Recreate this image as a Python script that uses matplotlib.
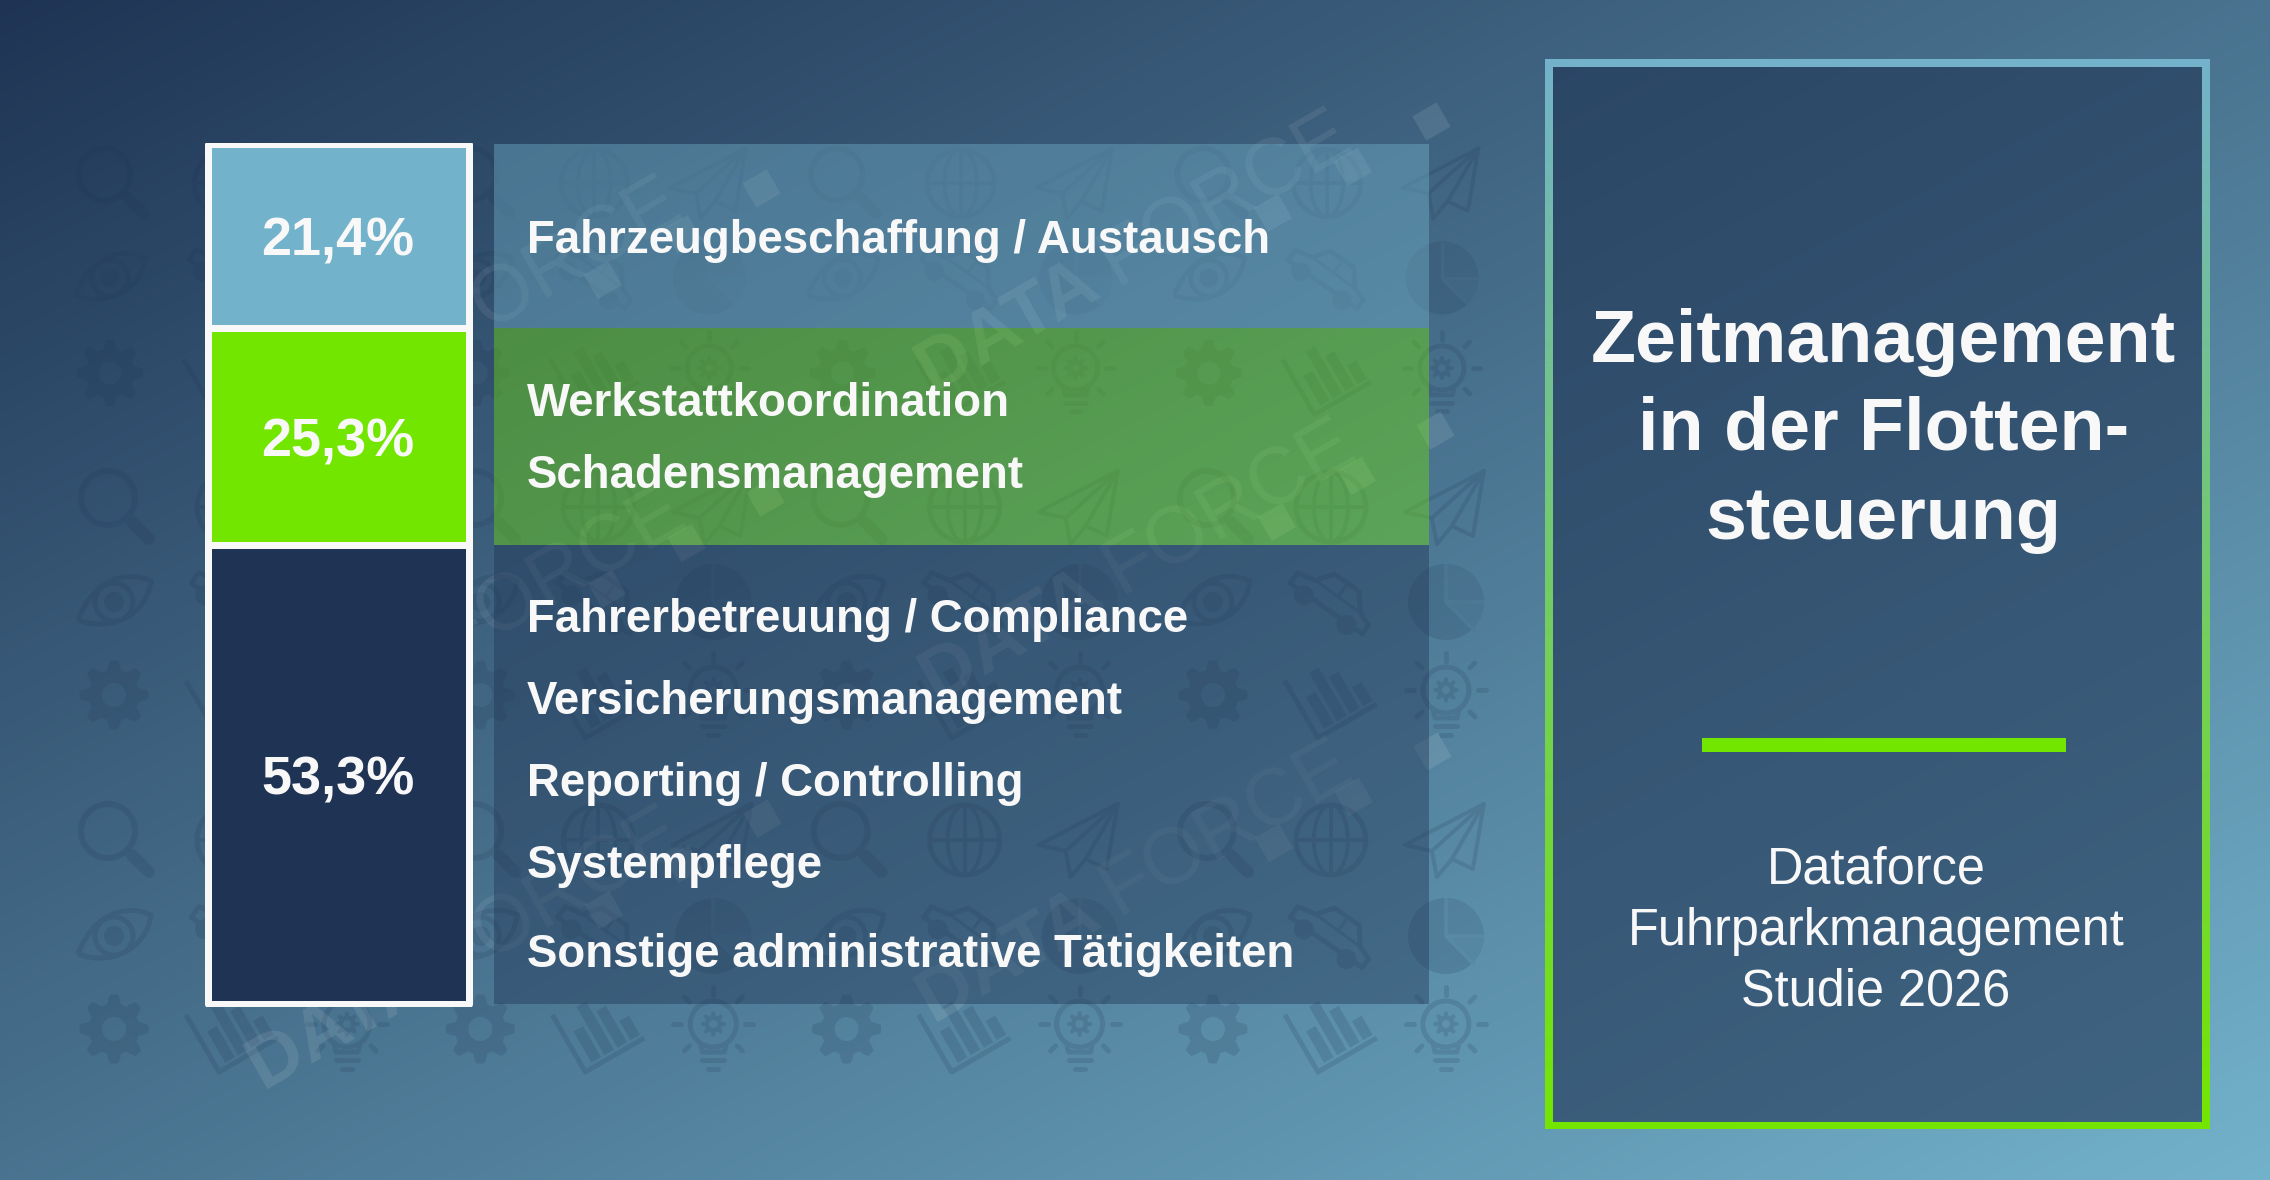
import numpy as np
import matplotlib
matplotlib.use('Agg')
import matplotlib.pyplot as plt
from matplotlib.figure import Figure
from matplotlib.backends.backend_agg import FigureCanvasAgg
from matplotlib.patches import Circle, Polygon, Wedge, Rectangle, PathPatch
from matplotlib.path import Path

plt.rcParams['font.family'] = ['Liberation Sans', 'DejaVu Sans']

W, H = 2270, 1180

# data
share_labels = ['53,3%', '25,3%', '21,4%']
shares = [53.3, 25.3, 21.4]
bar_colors = ['#1f3454', '#73e600', '#73b2cb']
panel_alpha = [0.42, 0.40, 0.42]
items_low = ['Fahrerbetreuung / Compliance', 'Versicherungsmanagement', 'Reporting / Controlling',
             'Systempflege', 'Sonstige administrative Tätigkeiten']
items_mid = ['Werkstattkoordination', 'Schadensmanagement']
items_top = ['Fahrzeugbeschaffung / Austausch']
title_lines = ['Zeitmanagement', 'in der Flotten-', 'steuerung']
source_lines = ['Dataforce', 'Fuhrparkmanagement', 'Studie 2026']

NAVY = '#1f3454'
BLUE = '#73b2cb'
GREEN = '#73e600'
WHITE = '#f8f8f8'


def lw(px):
    return px * 0.72


def mix(c1, c2, t):
    c1 = np.array(matplotlib.colors.to_rgb(c1))
    c2 = np.array(matplotlib.colors.to_rgb(c2))
    return c1[None, None, :] * (1 - t[..., None]) + c2[None, None, :] * t[..., None]


# background icons are drawn black on white in a second figure and used as a mask
fig_m = Figure(figsize=(W / 100, H / 100), dpi=100)
canvas_m = FigureCanvasAgg(fig_m)
am = fig_m.add_axes([0, 0, 1, 1])
am.set_xlim(0, W)
am.set_ylim(H, 0)
am.axis('off')


def line(pts, cx, cy, s, width, cap='round', color='k'):
    pts = np.array(pts, float)
    am.plot(cx + pts[:, 0] * s, cy + pts[:, 1] * s, color=color, lw=lw(width * s),
            solid_capstyle=cap, solid_joinstyle='round')


def ring(x, y, r, width, s, face='w'):
    am.add_patch(Circle((x, y), r * s, fc=face, ec='k', lw=lw(width * s)))


def gear(cx, cy, s, r0=30, amp=4.5, hole=12):
    th = np.linspace(0, 2 * np.pi, 721)
    r = (r0 + amp * np.clip(1.6 * np.cos(8 * th), -1, 1)) * s
    am.add_patch(Polygon(np.c_[cx + r * np.cos(th), cy + r * np.sin(th)], fc='k', ec='none'))
    am.add_patch(Circle((cx, cy), hole * s, fc='w', ec='none'))


def magnifier(cx, cy, s):
    ring(cx - 6 * s, cy - 9 * s, 27, 6, s)
    line([(13, 10), (18, 15)], cx, cy, s, 6)
    line([(18, 15), (35, 32)], cx, cy, s, 12)


def eye(cx, cy, s):
    p = [(-36, 18), (-20, -25), (15, -32), (37, -21), (32, 15), (-5, 30), (-36, 18)]
    v = np.array(p, float) * s + [cx, cy]
    codes = [Path.MOVETO] + [Path.CURVE4] * 6
    am.add_patch(PathPatch(Path(v, codes), fc='w', ec='k', lw=lw(5 * s)))
    ring(cx, cy, 19, 5, s)
    am.add_patch(Circle((cx, cy), 10 * s, fc='k', ec='none'))


def bars(cx, cy, s):
    u = np.array([0.866, -0.5])
    v = np.array([-0.5, -0.866])
    o = np.array([-13.0, 36.0])
    line([o + v * 66, o, o + u * 68], cx, cy, s, 5, 'butt')
    for pos, h in zip([10, 25, 40, 55], [36, 56, 42, 22]):
        q = [o + u * pos + v * 5, o + u * (pos + 11) + v * 5, o + u * (pos + 11) + v * (5 + h), o + u * pos + v * (5 + h)]
        am.add_patch(Polygon(np.array(q) * s + [cx, cy], fc='k', ec='none'))


def bulb(cx, cy, s):
    ring(cx, cy, 23, 5, s)
    line([(-13, 19), (-11, 28), (11, 28), (13, 19)], cx, cy, s, 5)
    line([(-11, 36), (11, 36)], cx, cy, s, 5)
    line([(-5, 45), (5, 45)], cx, cy, s, 5)
    gear(cx, cy, s, r0=10.5, amp=2, hole=4)
    for p in [[(-40, 0), (-32, 0)], [(32, 0), (40, 0)], [(0, -37), (0, -29)],
              [(-29, -27), (-24, -22)], [(29, -27), (24, -22)],
              [(-29, 27), (-24, 22)], [(29, 27), (24, 22)]]:
        line(p, cx, cy, s, 5)


def plane(cx, cy, s):
    tip, left, right = (38, -36), (-41, 5), (27, 29)
    low, inner, mid = (-9, 37), (-14, 11), (6, 19)
    line([tip, left, inner, tip], cx, cy, s, 4)
    line([tip, right, mid], cx, cy, s, 4)
    line([inner, low, mid, tip], cx, cy, s, 4)


def pie(cx, cy, s):
    am.add_patch(Circle((cx, cy), 38 * s, fc='k', ec='none'))
    am.add_patch(Wedge((cx, cy), 38 * s, -90, 0, fc='0.25', ec='none'))
    am.add_patch(Wedge((cx, cy), 38 * s, 0, 45, fc='0.5', ec='none'))
    line([(0, -38), (0, 0), (38, 0)], cx, cy, s, 3.5, 'butt', '0.7')
    line([(0, 0), (29, 29)], cx, cy, s, 3.5, 'butt', '0.7')


def car(cx, cy, s):
    a = np.radians(35)
    rot = np.array([[np.cos(a), -np.sin(a)], [np.sin(a), np.cos(a)]])
    body = [(-44, 8), (-44, -5), (-25, -9), (-13, -25), (17, -25), (30, -8), (44, -3), (44, 8), (-44, 8)]
    line(np.array(body, float) @ rot.T, cx, cy, s, 5)
    line(np.array([(-25, -9), (30, -8)], float) @ rot.T, cx, cy, s, 3)
    line(np.array([(3, -25), (3, -8)], float) @ rot.T, cx, cy, s, 3)
    for wx in (-26, 26):
        x, y = rot @ np.array([wx, 10.0])
        am.add_patch(Circle((cx + x * s, cy + y * s), 10 * s, fc='k', ec='none'))


def globe(cx, cy, s):
    ring(cx, cy, 35, 5, s)
    th = np.linspace(0, 2 * np.pi, 100)
    line(np.c_[17 * np.cos(th), 35 * np.sin(th)], cx, cy, s, 4)
    line([(-35, 0), (35, 0)], cx, cy, s, 4)
    line([(0, -35), (0, 35)], cx, cy, s, 4)


tile_x = [-4, 0, 0]
tile_s = [0.96, 1.0, 1.0]
tile_rows = [(183, 278, 368), (507, 602, 690), (840, 936, 1024)]
for (y1, y2, y3), dx, s in zip(tile_rows, tile_x, tile_s):
    for k in range(4):
        xa, xb, xc = 114 + 366.3 * k + dx, 232 + 366.3 * k + dx, 347 + 366.3 * k + dx
        magnifier(xa, y1, s)
        eye(xa, y2, s)
        gear(xa, y3 + 5, s)
        globe(xb, y1, s)
        car(xb, y2, s)
        bars(xb, y3 + 12, s)
        plane(xc, y1, s)
        pie(xc, y2, s)
        bulb(xc, y3, s)
canvas_m.draw()
mask = (255 - np.asarray(canvas_m.buffer_rgba())[..., 0].astype(float)) / 255

fig = plt.figure(figsize=(W / 100, H / 100), dpi=100)

# page background
ax = fig.add_axes([0, 0, 1, 1])
yy, xx = np.mgrid[0:H, 0:W]
ax.imshow(mix(NAVY, BLUE, (xx / W + yy / H) / 2), extent=(0, W, H, 0), aspect='auto', interpolation='bilinear')
icon_layer = np.zeros((H, W, 4))
icon_layer[..., :3] = matplotlib.colors.to_rgb(NAVY)
icon_layer[..., 3] = mask * 0.17
ax.imshow(icon_layer, extent=(0, W, H, 0), aspect='auto', interpolation='nearest')

# DATAFORCE watermark
u = np.array([0.866, -0.5])
n = np.array([-0.5, -0.866])
for sx, sy in [(1273, 213), (1277, 522), (1274, 843), (603, 280), (607, 589), (604, 910)]:
    S = np.array([sx, sy], float)
    p = S + u * (-385) + n * 16
    ax.text(p[0], p[1], 'DATA', rotation=30, rotation_mode='anchor', fontsize=54, fontweight='bold',
            color='w', alpha=0.1, ha='left', va='baseline')
    p = S + u * (-172) + n * 16
    ax.text(p[0], p[1], 'FORCE', rotation=30, rotation_mode='anchor', fontsize=57,
            color='w', alpha=0.08, ha='left', va='baseline')
    for d in (0, 92, 183):
        c = S + u * d
        q = [c + u * 14 + n * 14, c - u * 14 + n * 14, c - u * 14 - n * 14, c + u * 14 - n * 14]
        ax.add_patch(Polygon(q, fc='w', ec='none', alpha=0.1))

# right box
o0, o1, p0, p1 = 1545, 2210, 59, 1129
i0, i1, j0, j1 = 1553, 2202, 67, 1122
ax.add_patch(Rectangle((i0, j0), i1 - i0, j1 - j0, fc=NAVY, ec='none', alpha=0.6, zorder=2))
t = ((np.arange(H) - p0) / (p1 - p0)).clip(0, 1)[:, None]
frame_img = ax.imshow(mix(BLUE, GREEN, t), extent=(0, W, H, 0), aspect='auto', zorder=3)
frame_path = Path([(o0, p0), (o1, p0), (o1, p1), (o0, p1), (o0, p0), (i0, j0), (i0, j1), (i1, j1), (i1, j0), (i0, j0)],
                  [1, 2, 2, 2, 79, 1, 2, 2, 2, 79])
frame_img.set_clip_path(PathPatch(frame_path, transform=ax.transData))
ax.add_patch(Rectangle((1702, 738), 364, 14, fc=GREEN, ec='none', zorder=4))
ax.set_xlim(0, W)
ax.set_ylim(H, 0)
ax.axis('off')

for line_txt, y in zip(title_lines, [362, 450, 539]):
    ax.text(1883.5, y, line_txt, fontsize=53, fontweight='bold', color=WHITE, ha='center', va='baseline', zorder=5)
for line_txt, y in zip(source_lines, [884, 945, 1005]):
    ax.text(1876, y, line_txt, fontsize=36.4, color=WHITE, ha='center', va='baseline', zorder=5)

# stacked bar and the panels next to it use one y scale
x0, x1 = 204, 1429
y_top, y_bot = 143, 1007
px_per = 860 / 100
ax2 = fig.add_axes([x0 / W, 1 - y_bot / H, (x1 - x0) / W, (y_bot - y_top) / H])
ax2.set_xlim(x0, x1)
ax2.set_ylim(-3.5 / px_per, 100 + 0.5 / px_per)
ax2.patch.set_alpha(0)
ax2.axis('off')
bottoms = np.cumsum([0] + shares[:-1])
for val, b, col, lab, al in zip(shares, bottoms, bar_colors, share_labels, panel_alpha):
    ax2.bar(961.5, val, width=935, bottom=b, color=col, alpha=al, linewidth=0)
    ax2.bar(338, val, width=261, bottom=b, color=col, edgecolor=WHITE, linewidth=lw(7), joinstyle='round')
    ax2.annotate(lab, (338, b + val / 2), xytext=(0, -4.3), textcoords='offset points', fontsize=38.9,
                 fontweight='bold', color=WHITE, ha='center', va='center')

for items, ys in [(items_low, [632, 714, 796, 878.5, 967]), (items_mid, [416, 488]), (items_top, [253])]:
    for item, y in zip(items, ys):
        ax2.annotate(item, (527, y), xycoords=ax.transData, fontsize=32.9, fontweight='bold', color=WHITE,
                     ha='left', va='baseline')

fig.savefig('out.png', dpi=100)
